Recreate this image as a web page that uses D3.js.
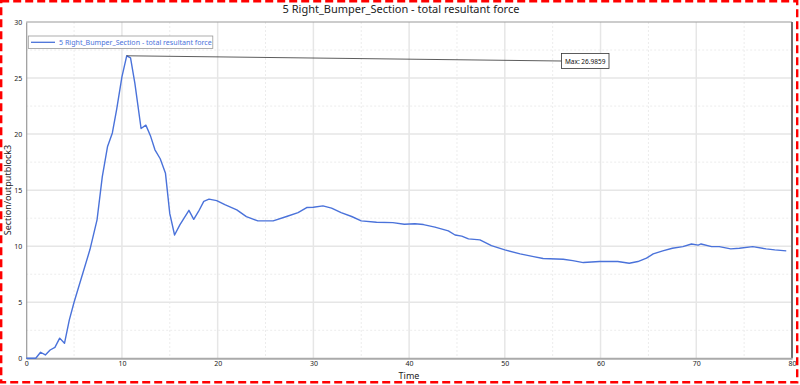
<!DOCTYPE html>
<html>
<head>
<meta charset="utf-8">
<script src="https://cdn.jsdelivr.net/npm/d3@7"></script>
<style>
  body { margin: 0; background: #fff; }
  svg { display: block; font-family: 'Noto Sans', 'Open Sans', sans-serif; }
</style>
</head>
<body>
<svg id="chart" width="800" height="385"></svg>
<script>
// series
const times = [0, 1, 1.5, 2, 2.5, 3, 3.5, 4, 4.5, 5, 6.66, 7.4, 7.95, 8.5, 9, 9.45, 10, 10.5, 10.9, 11.35,
  12, 12.5, 13, 13.45, 14, 14.55, 15, 15.5, 16.05, 17, 17.5, 18, 18.55, 19.1, 19.9, 20.75, 22, 23, 24.2,
  25.8, 27.2, 28.4, 29.3, 30, 31, 31.9, 32.9, 34, 35, 36.6, 38.3, 39.5, 40.6, 41.5, 42.7, 44.1, 44.8,
  45.5, 46.2, 47.4, 48.6, 50, 51.6, 53, 54, 56.1, 57.1, 58.2, 59.9, 61.8, 63, 63.9, 64.8, 65.5, 66.5,
  67.5, 68.6, 69.5, 70.2, 70.5, 71.6, 72.4, 73.6, 74.5, 75.9, 77.3, 78.2, 79.4]
const force = [0, 0, 0.54, 0.3, 0.74, 0.98, 1.8, 1.34, 3.4, 5.0, 9.7, 12.35, 16.2, 18.9, 20.1, 22.2, 25.1, 26.9859, 26.8, 24.55,
  20.5, 20.8, 19.8, 18.6, 17.8, 16.5, 12.9, 11.0, 11.9, 13.2, 12.4, 13.1, 14.0, 14.2, 14.07, 13.7, 13.24, 12.64, 12.26,
  12.26, 12.65, 13.0, 13.45, 13.48, 13.6, 13.4, 13.0, 12.65, 12.26, 12.14, 12.1, 11.96, 12.0, 11.93, 11.7, 11.37, 11.0,
  10.9, 10.65, 10.56, 10.05, 9.67, 9.31, 9.07, 8.9, 8.84, 8.71, 8.54, 8.63, 8.63, 8.48, 8.63, 8.93, 9.31, 9.58,
  9.82, 9.96, 10.2, 10.1, 10.2, 9.96, 9.96, 9.76, 9.82, 9.96, 9.76, 9.67, 9.58]
const xTicks = [0, 10, 20, 30, 40, 50, 60, 70, 80]
const yTicks = [0, 5, 10, 15, 20, 25, 30]
const xMinor = [5, 15, 25, 35, 45, 55, 65, 75]
const yMinor = [2.5, 7.5, 12.5, 17.5, 22.5, 27.5]
const seriesName = '5 Right_Bumper_Section - total resultant force'

const data = times.map((t, i) => ({ t: t, v: force[i] }))

let svg = d3.select('#chart')
let x = d3.scaleLinear().domain([0, 80]).range([26.2, 792])
let y = d3.scaleLinear().domain([0, 30]).range([358.3, 22])
const lineColor = '#4a72da'

// grid
let grid = svg.append('g')
grid.selectAll('.vmin').data(xMinor).enter().append('line')
  .attr('x1', d => x(d)).attr('x2', d => x(d)).attr('y1', y(30)).attr('y2', y(0))
  .attr('stroke', '#ececec').attr('stroke-dasharray', '2,2').attr('stroke-width', 1)
grid.selectAll('.hmin').data(yMinor).enter().append('line')
  .attr('x1', x(0)).attr('x2', x(80)).attr('y1', d => y(d)).attr('y2', d => y(d))
  .attr('stroke', '#ececec').attr('stroke-dasharray', '2,2').attr('stroke-width', 1)
grid.selectAll('.vmaj').data(xTicks.slice(1, -1)).enter().append('line')
  .attr('x1', d => x(d)).attr('x2', d => x(d)).attr('y1', y(30)).attr('y2', y(0))
  .attr('stroke', '#e6e6e6').attr('stroke-width', 1.5)
grid.selectAll('.hmaj').data(yTicks.slice(1, -1)).enter().append('line')
  .attr('x1', x(0)).attr('x2', x(80)).attr('y1', d => y(d)).attr('y2', d => y(d))
  .attr('stroke', '#e6e6e6').attr('stroke-width', 1.5)

// frame
svg.append('line').attr('x1', x(0)).attr('x2', x(80)).attr('y1', y(30)).attr('y2', y(30))
  .attr('stroke', '#9a9a9a').attr('stroke-width', 1.2)
svg.append('line').attr('x1', x(80)).attr('x2', x(80)).attr('y1', y(30)).attr('y2', y(0))
  .attr('stroke', '#707070').attr('stroke-width', 2)

// axes
let xAxis = d3.axisBottom(x).tickValues(xTicks).tickSize(0).tickPadding(3)
let axisX = svg.append('g').attr('transform', 'translate(0,' + y(0) + ')').call(xAxis)
axisX.select('.domain').attr('stroke', '#aaaaaa').attr('stroke-width', 2)
axisX.selectAll('text').attr('font-size', '7px').attr('fill', '#222')
  .attr('font-family', "'Noto Sans', sans-serif")

let yAxis = d3.axisLeft(y).tickValues(yTicks).tickSize(0).tickPadding(4)
let axisY = svg.append('g').attr('transform', 'translate(' + x(0) + ',0)').call(yAxis)
axisY.select('.domain').attr('stroke', '#999999').attr('stroke-width', 1.2)
axisY.selectAll('text').attr('font-size', '7px').attr('fill', '#222')
  .attr('font-family', "'Noto Sans', sans-serif")

// series
let line = d3.line().x(d => x(d.t)).y(d => y(d.v))
svg.append('path').datum(data)
  .attr('d', line)
  .attr('fill', 'none')
  .attr('stroke', lineColor)
  .attr('stroke-width', 1.4)
  .attr('stroke-linejoin', 'round')

// max annotation
let peak = data.reduce((a, b) => (b.v > a.v ? b : a))
svg.append('line')
  .attr('x1', x(peak.t)).attr('y1', y(peak.v))
  .attr('x2', 561.5).attr('y2', 61)
  .attr('stroke', '#333').attr('stroke-width', 0.8)
svg.append('rect').attr('x', 561.5).attr('y', 53.5).attr('width', 47.5).attr('height', 15)
  .attr('fill', '#fff').attr('stroke', '#333').attr('stroke-width', 0.8)
svg.append('text').attr('x', 585.2).attr('y', 63.6).attr('text-anchor', 'middle')
  .attr('font-size', '6.5px').attr('fill', '#111')
  .text('Max: ' + peak.v.toFixed(4))

// legend
svg.append('rect').attr('x', 28.3).attr('y', 36).attr('width', 184.5).attr('height', 12.5)
  .attr('fill', '#fff').attr('stroke', '#999').attr('stroke-width', 0.8)
svg.append('line').attr('x1', 31).attr('x2', 55).attr('y1', 42.3).attr('y2', 42.3)
  .attr('stroke', lineColor).attr('stroke-width', 1.3)
svg.append('text').attr('x', 59).attr('y', 44.8)
  .attr('font-size', '7.1px').attr('fill', lineColor)
  .text(seriesName)

// titles
svg.append('text').attr('x', 401).attr('y', 13).attr('text-anchor', 'middle')
  .attr('font-size', '11px').attr('fill', '#222').text(seriesName)
svg.append('text').attr('x', 409).attr('y', 378.5).attr('text-anchor', 'middle')
  .attr('font-size', '9px').attr('fill', '#222').text('Time')
svg.append('text').attr('transform', 'translate(11,190) rotate(-90)').attr('text-anchor', 'middle')
  .attr('font-size', '9px').attr('fill', '#222').text('Section/outputblock3')

// red dashed frame
svg.append('rect').attr('x', 1.2).attr('y', 1.2).attr('width', 796).attr('height', 381)
  .attr('fill', 'none').attr('stroke', '#ff0000').attr('stroke-width', 2.4)
  .attr('stroke-dasharray', '8,4')
</script>
</body>
</html>
